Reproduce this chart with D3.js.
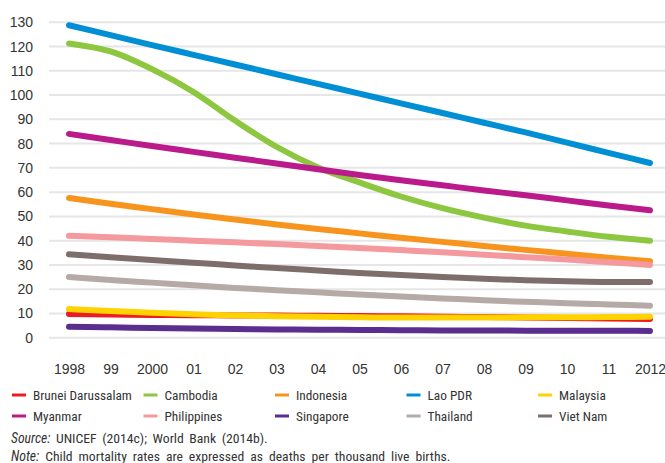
<!DOCTYPE html>
<meta charset="utf-8">
<style>
    body {
        margin: 0;
        background: #fff;
        font-family: 'Liberation Sans Narrow', 'Arial Narrow', 'Roboto Condensed', 'DejaVu Sans Condensed', sans-serif;
    }
    #graph {
        width: 665px;
        height: 463px;
        overflow: hidden;
    }
    .tick text {
        fill: #333;
    }
</style>
<script src="https://d3js.org/d3.v7.min.js"></script>
<div id="graph"></div>
<script>
    // years and their tick labels
    const years = [1998, 1999, 2000, 2001, 2002, 2003, 2004, 2005, 2006, 2007, 2008, 2009, 2010, 2011, 2012];
    const yearLabels = ["1998", "99", "2000", "01", "02", "03", "04", "05", "06", "07", "08", "09", "10", "11", "2012"];
    const yTicks = [0, 10, 20, 30, 40, 50, 60, 70, 80, 90, 100, 110, 120, 130];

    const countries = ["Brunei Darussalam", "Cambodia", "Indonesia", "Lao PDR", "Malaysia",
        "Myanmar", "Philippines", "Singapore", "Thailand", "Viet Nam"];
    const colors = ["#ed1c24", "#8dc63f", "#f7941d", "#008fd5", "#ffd200",
        "#bb1a8b", "#f4999e", "#5b2d8e", "#b5aaa6", "#7d6e6b"];

    // under-five mortality, deaths per 1000 live births
    const brunei = [9.8, 9.6, 9.4, 9.3, 9.2, 9.1, 9.0, 8.9, 8.8, 8.6, 8.5, 8.3, 8.1, 7.9, 7.7];
    const cambodia = [121.3, 118, 110.7, 101.3, 89.5, 78.7, 70.2, 64, 58.2, 53.4, 49.5, 46.2, 43.8, 41.6, 40];
    const indonesia = [57.6, 55.2, 53, 50.8, 48.7, 46.7, 44.8, 43, 41.2, 39.5, 37.8, 36.2, 34.6, 33, 31.5];
    const lao = [128.8, 124.7, 120.6, 116.6, 112.6, 108.6, 104.6, 100.6, 96.6, 92.6, 88.6, 84.6, 80.4, 76.2, 72];
    const malaysia = [11.8, 11, 10.3, 9.7, 9.2, 8.8, 8.6, 8.4, 8.3, 8.3, 8.3, 8.4, 8.4, 8.5, 8.6];
    const myanmar = [84, 81.5, 79, 76.6, 74.2, 71.8, 69.4, 67.1, 64.9, 62.8, 60.7, 58.7, 56.6, 54.5, 52.5];
    const philippines = [42, 41.4, 40.7, 40, 39.3, 38.6, 37.8, 37, 36.1, 35.2, 34.2, 33.2, 32.2, 31.1, 30];
    const singapore = [4.5, 4.3, 4.0, 3.8, 3.6, 3.4, 3.3, 3.2, 3.1, 3.0, 3.0, 2.9, 2.9, 2.9, 2.8];
    const thailand = [25, 23.8, 22.7, 21.6, 20.5, 19.6, 18.7, 17.8, 17, 16.2, 15.4, 14.8, 14.2, 13.7, 13.2];
    const vietnam = [34.4, 33.2, 32, 30.9, 29.8, 28.7, 27.7, 26.7, 25.8, 25, 24.3, 23.7, 23.3, 23, 23];

    const series = [brunei, cambodia, indonesia, lao, malaysia, myanmar, philippines, singapore, thailand, vietnam];

    const width = 665, height = 463;
    const svg = d3.select("#graph").append("svg")
        .attr("width", width)
        .attr("height", height);

    const x = d3.scaleLinear()
        .domain([1998, 2012])
        .range([69, 650]);

    const y = d3.scaleLinear()
        .domain([0, 130])
        .range([337.7, 22.3]);

    // grid lines
    svg.append("g")
        .selectAll("line")
        .data(yTicks)
        .enter().append("line")
        .attr("x1", 49)
        .attr("x2", width)
        .attr("y1", d => y(d))
        .attr("y2", d => y(d))
        .attr("stroke", "#e6e6e6")
        .attr("stroke-width", 2);

    // y axis
    const axisY = svg.append("g")
        .attr("transform", "translate(33,0)")
        .call(d3.axisLeft(y).tickValues(yTicks).tickSize(0).tickPadding(0));
    axisY.select(".domain").remove();
    axisY.selectAll("text").attr("font-size", 14).attr("font-family", null);

    // x axis
    const axisX = svg.append("g")
        .attr("transform", "translate(0,364)")
        .call(d3.axisBottom(x).tickValues(years).tickSize(0).tickPadding(0)
            .tickFormat((d, i) => yearLabels[i]));
    axisX.select(".domain").remove();
    axisX.selectAll("text").attr("font-size", 14).attr("font-family", null);

    // lines
    const line = d3.line()
        .x((d, i) => x(years[i]))
        .y(d => y(d))
        .curve(d3.curveMonotoneX);

    svg.append("g")
        .selectAll("path")
        .data(series)
        .enter().append("path")
        .attr("d", line)
        .attr("fill", "none")
        .attr("stroke", (d, i) => colors[i])
        .attr("stroke-width", 6)
        .attr("stroke-linecap", "round")
        .attr("stroke-linejoin", "round");

    // legend, 5 columns x 2 rows
    const legend = svg.append("g")
        .selectAll("g")
        .data(countries)
        .enter().append("g")
        .attr("transform", (d, i) => `translate(${12 + (i % 5) * 131.5},${395 + Math.floor(i / 5) * 21})`);

    legend.append("line")
        .attr("x1", 0)
        .attr("x2", 14)
        .attr("stroke", (d, i) => colors[i])
        .attr("stroke-width", 3);

    legend.append("text")
        .attr("x", 21)
        .attr("dy", "0.35em")
        .attr("font-size", 13.3)
        .attr("fill", "#333")
        .text(d => d);

    // source and note
    const foot = svg.append("g").attr("font-size", 13.7).attr("fill", "#333");
    const src = foot.append("text").attr("x", 11).attr("y", 443).attr("word-spacing", 2.4);
    src.append("tspan").attr("font-style", "italic").text("Source:");
    src.append("tspan").text(" UNICEF (2014c); World Bank (2014b).");
    const note = foot.append("text").attr("x", 11).attr("y", 461).attr("word-spacing", 2.8);
    note.append("tspan").attr("font-style", "italic").text("Note:");
    note.append("tspan").text(" Child mortality rates are expressed as deaths per thousand live births.");
</script>
